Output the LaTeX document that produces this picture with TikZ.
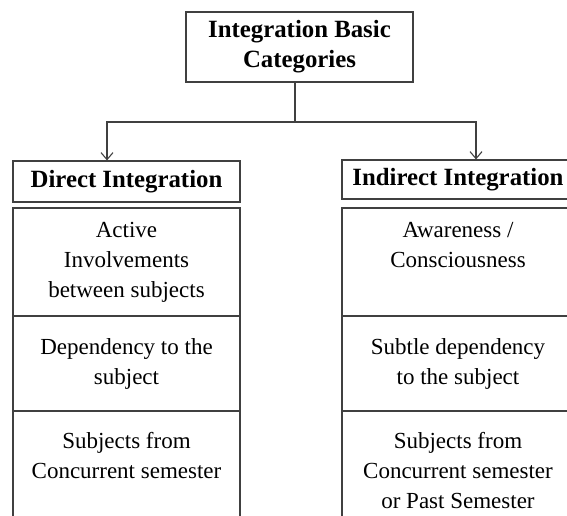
\documentclass[tikz,border=0pt]{standalone}
\usepackage{fontspec}
\setmainfont{Liberation Serif}
\usetikzlibrary{positioning,arrows.meta}

\begin{document}
\begin{tikzpicture}[x=1pt,y=-1pt,
    line/.style={draw=black!75,line width=1.1pt},
    box/.style={line,inner sep=0pt,align=center},
    head/.style={box,font=\fontsize{24.8}{30}\selectfont\bfseries},
    cell/.style={box,font=\fontsize{23}{30}\selectfont},
    txt/.style={inner sep=0pt,align=center,font=\fontsize{23}{30}\selectfont},
    arr/.style={line,-{Straight Barb[length=7pt,width=12pt]}}]
  \useasboundingbox (0,0) rectangle (567,516) ;
  \clip (0,0) rectangle (567,516) ;
  \node[head,minimum width=227pt,minimum height=70pt] %
  (top) at (299.5,47) {Integration Basic\\Categories} ;
  \coordinate (split) at (295,122) ;
  % left column
  \node[head,minimum width=227pt,minimum height=41pt] %
  (dhead) at (126.5,181.5) {Direct Integration} ;
  \node[cell,minimum width=227pt,minimum height=108pt] %
  (d1) at (126.5,262) {Active\\Involvements\\between subjects} ;
  \node[cell,minimum width=227pt,minimum height=95pt] %
  (d2) at (126.5,363.5) {Dependency to the\\subject} ;
  \node[cell,minimum width=227pt,minimum height=140pt,anchor=north] %
  (d3) at (126.5,411) {} ;
  \node[txt,below=21pt of d3.north] (d3t) {Subjects from\\Concurrent semester} ;
  % right column
  \node[head,minimum width=232pt,minimum height=39pt] %
  (ihead) at (458,179.5) {Indirect Integration} ;
  \node[cell,minimum width=232pt,minimum height=108pt] %
  (i1) at (458,262) {} ;
  \node[txt,below=15pt of i1.north] (i1t) {Awareness /\\Consciousness} ;
  \node[cell,minimum width=232pt,minimum height=95pt] %
  (i2) at (458,363.5) {Subtle dependency\\to the subject} ;
  \node[cell,minimum width=232pt,minimum height=140pt,anchor=north] %
  (i3) at (458,411) {} ;
  \node[txt,below=21pt of i3.north] (i3t) %
  {Subjects from\\Concurrent semester\\or Past Semester} ;
  % connectors
  \draw[line] (top.south -| split) -- (split) ;
  \draw[arr] (split) -| ([xshift=-19.5pt]dhead.north) ;
  \draw[arr] (split) -| ([xshift=18pt]ihead.north) ;
\end{tikzpicture}
\end{document}
